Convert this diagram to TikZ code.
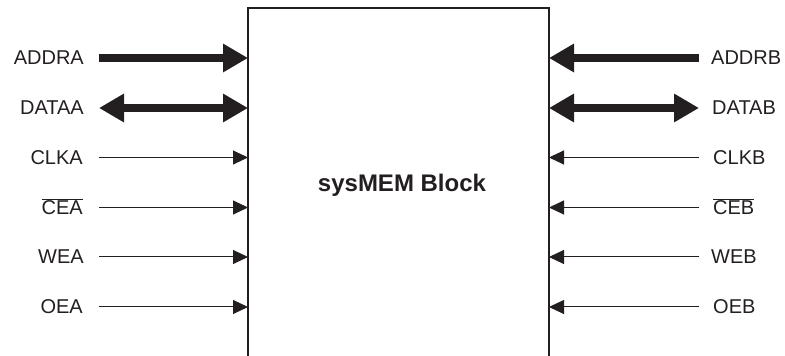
\documentclass[tikz,border=0pt]{standalone}
\usepackage{fontspec}
\setmainfont{Liberation Sans}
\usetikzlibrary{arrows.meta}
\definecolor{ink}{HTML}{231F20}
\begin{document}
\begin{tikzpicture}[x=1pt,y=1pt,
  lbl/.style={font=\fontsize{20}{22}\selectfont, text=ink, inner sep=0pt},
  lbll/.style={lbl, anchor=base east},
  lblr/.style={lbl, anchor=base west},
  bus/.style={draw=ink, line width=8pt},
  bustip/.tip={Triangle[length=25pt,width=27pt]},
  sig/.style={draw=ink, line width=1pt, -{Triangle[length=15pt,width=14pt]}},
  boxline/.style={draw=ink, line width=1.3pt}]
\useasboundingbox (0,0) rectangle (785,356);
% box
\coordinate (bl) at (248,-2);
\coordinate (tl) at (248,348);
\coordinate (tr) at (549,348);
\coordinate (br) at (549,-2);
\draw[boxline] (bl) -- (tl) -- (tr) -- (br);
\node[font=\bfseries\fontsize{24}{26}\selectfont, text=ink, inner sep=0pt, anchor=base] (blk) at (402,164) {sysMEM Block};
% row coordinates
\foreach \n/\y in {1/298,2/248,3/198.5,4/148.5,5/99,6/49}{
  \coordinate (ls\n) at (99,\y);
  \coordinate (rs\n) at (699,\y);
  \coordinate (le\n) at (248,\y);
  \coordinate (re\n) at (549,\y);
}
% left labels
\node[lbll] (addra) at (84,291) {ADDRA};
\node[lbll] (dataa) at (84,241) {DATAA};
\node[lbll] (clka) at (83,191.5) {CLKA};
\node[lbll] (cea) at (83,141.5) {$\overline{\hbox{CEA}}$};
\node[lbll] (wea) at (84,92) {WEA};
\node[lbll] (oea) at (83,42) {OEA};
% right labels
\node[lblr] (addrb) at (711,291) {ADDRB};
\node[lblr] (datab) at (712,241) {DATAB};
\node[lblr] (clkb) at (713,191.5) {CLKB};
\node[lblr] (ceb) at (713,141.5) {$\overline{\hbox{CEB}}$};
\node[lblr] (web) at (711,92) {WEB};
\node[lblr] (oeb) at (713,42) {OEB};
% bus arrows
\draw[bus, -bustip] (ls1) -- (le1);
\draw[bus, bustip-bustip] (ls2) -- (le2);
\draw[bus, -bustip] (rs1) -- (re1);
\draw[bus, bustip-bustip] (rs2) -- (re2);
% signal arrows
\foreach \n in {3,4,5,6}{
  \draw[sig] (ls\n) -- (le\n);
  \draw[sig] (rs\n) -- (re\n);
}
\end{tikzpicture}
\end{document}
